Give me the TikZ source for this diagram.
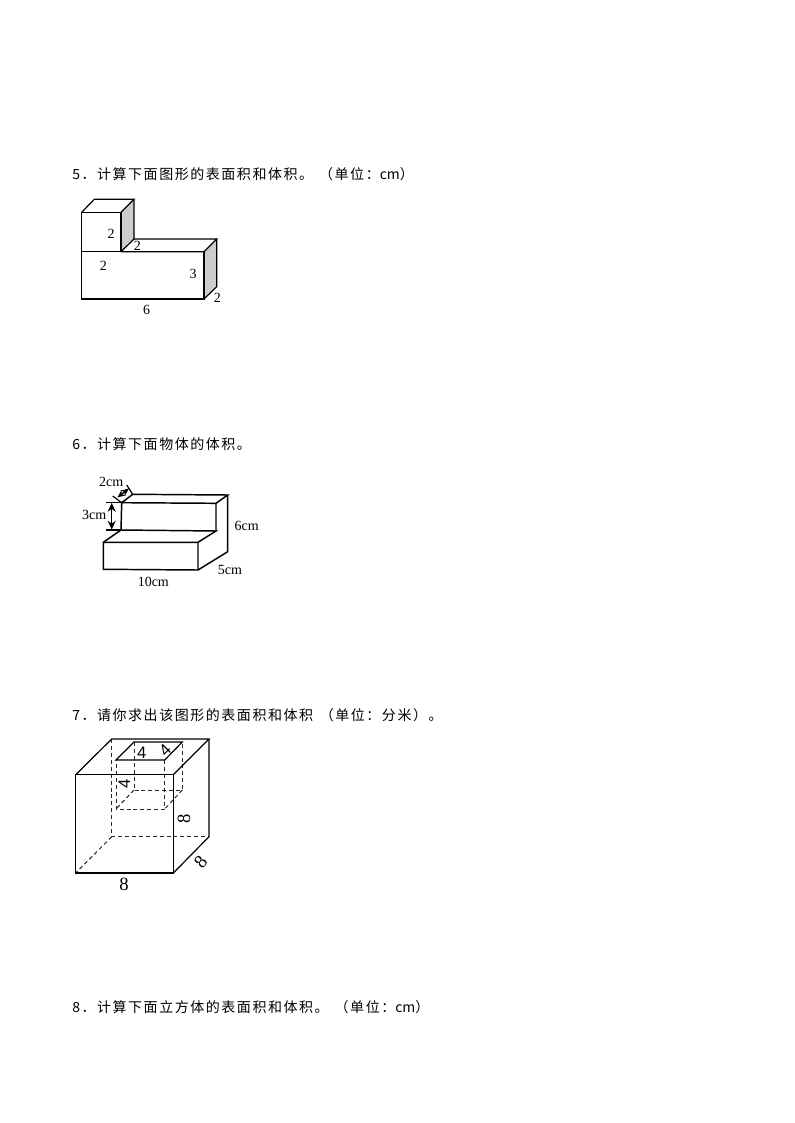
\documentclass[tikz,border=0pt]{standalone}
\usepackage{fontspec}
\usepackage{xcolor}
\setmainfont{Liberation Serif}
\newfontfamily\cjk[LetterSpace=11]{Noto Sans CJK SC}
\newfontfamily\cjkplain{Noto Sans CJK SC}
\newfontfamily\arialfont{Liberation Sans}
\usetikzlibrary{arrows.meta}
\definecolor{faceGray}{gray}{0.8}

\begin{document}
\begin{tikzpicture}[x=0.75pt, y=-0.75pt]
\tikzstyle{title}=[anchor=west, inner sep=0pt, font=\cjk\fontsize{10.5pt}{12pt}\selectfont]
\tikzstyle{dim}=[inner sep=0pt, font=\fontsize{10.5pt}{11pt}\selectfont]
\tikzstyle{dimb}=[inner sep=0pt, font=\arialfont\fontsize{12.5pt}{13pt}\selectfont]
\tikzstyle{dimc}=[inner sep=0pt, font=\fontsize{14pt}{15pt}\selectfont]
\tikzstyle{solid edge}=[line width=1.1pt, line join=miter]
\tikzstyle{thin edge}=[line width=0.9pt, line join=miter]
\tikzstyle{hidden}=[line width=0.75pt, black!85, dash pattern=on 3pt off 2.2pt]
\useasboundingbox (0,0) rectangle (794,1123);

\node[title] (t5) at (72,174) {5．计算下面图形的表面积和体积。\hspace{4.5pt}（单位：{\cjkplain cm}）};
\node[title] (t6) at (72,444) {6．计算下面物体的体积。};
\node[title] (t7) at (72,715) {7．请你求出该图形的表面积和体积\hspace{5pt}（单位：分米）。};
\node[title] (t8) at (72,1007) {8．计算下面立方体的表面积和体积。\hspace{4.5pt}（单位：{\cjkplain cm}）};

% figure 5
\coordinate (a1) at (81.7,212.3);
\coordinate (a2) at (121,212.3);
\coordinate (a3) at (121,251.7);
\coordinate (a4) at (81.7,251.7);
\coordinate (a5) at (94.3,199.3);
\coordinate (a6) at (134,199.3);
\coordinate (a7) at (134,239);
\coordinate (b1) at (204,251.7);
\coordinate (b2) at (204,299);
\coordinate (b3) at (81.7,299);
\coordinate (b4) at (216.7,239);
\coordinate (b5) at (216.7,286.7);

\fill[faceGray] (a2)--(a6)--(a7)--(a3)--cycle;
\fill[faceGray] (b1)--(b4)--(b5)--(b2)--cycle;
\draw[thin edge] (a1)--(a2)--(a3)--(a4)--cycle;
\draw[thin edge] (a1)--(a5)--(a6)--(a2);
\draw[thin edge] (a6)--(a7)--(a3);
\draw[thin edge] (a7)--(b4)--(b1)--(a3);
\draw[thin edge] (a4)--(b3)--(b2)--(b1);
\draw[thin edge] (b4)--(b5)--(b2);

\node[dim] (l5a) at (111,234) {2};
\node[dim] (l5b) at (137.3,246) {2};
\node[dim] (l5c) at (103.3,266) {2};
\node[dim] (l5d) at (193,274) {3};
\node[dim] (l5e) at (217.3,298) {2};
\node[dim] (l5f) at (146.7,310) {6};

% figure 6
\coordinate (c1) at (103.3,542.3);
\coordinate (c2) at (198,542.3);
\coordinate (c3) at (198,570);
\coordinate (c4) at (103.3,569.3);
\coordinate (c5) at (121,530);
\coordinate (c6) at (216,531);
\coordinate (c7) at (121.7,502.7);
\coordinate (c8) at (216,503.3);
\coordinate (c9) at (132.7,494.3);
\coordinate (c10) at (227.7,495);
\coordinate (c11) at (227.7,551.7);
\coordinate (d1) at (106,502.7);
\coordinate (d2) at (106,530);
\coordinate (d3) at (111.7,503);
\coordinate (d4) at (111.7,529.5);
\coordinate (d5) at (112.7,496);
\coordinate (d6) at (126.7,485);
\coordinate (d7) at (117.3,497.5);
\coordinate (d8) at (129,488.5);

\draw[solid edge] (c1)--(c2)--(c3)--(c4)--cycle;
\draw[solid edge] (c1)--(c5)--(c6)--(c2);
\draw[solid edge] (c5)--(c7)--(c8)--(c6);
\draw[solid edge] (c7)--(c9)--(c10)--(c8);
\draw[solid edge] (c10)--(c11)--(c3);
\draw[solid edge] (d1)--(c7);
\draw[solid edge] (d2)--(c5);
\draw[line width=1pt, {Stealth[length=6.5pt,width=6pt]}-{Stealth[length=6.5pt,width=6pt]}] (d3)--(d4);
\draw[thin edge] (d5)--(c7);
\draw[thin edge] (d6)--(c9);
\draw[line width=1pt, {Stealth[length=6pt,width=5pt]}-{Stealth[length=6pt,width=5pt]}] (d7)--(d8);

\node[dim] (l6a) at (111.3,481.7) {2cm};
\node[dim] (l6b) at (94.3,515.3) {3cm};
\node[dim] (l6c) at (246.7,525.7) {6cm};
\node[dim] (l6d) at (230,570) {5cm};
\node[dim] (l6e) at (153.3,581.7) {10cm};

% figure 7
\coordinate (e1) at (75.7,774.7);
\coordinate (e2) at (173.3,774.7);
\coordinate (e3) at (173.3,873);
\coordinate (e4) at (75.7,873);
\coordinate (e5) at (111.7,739);
\coordinate (e6) at (209,739);
\coordinate (e7) at (209,836.7);
\coordinate (e8) at (111.7,836.7);
\coordinate (f1) at (134,742);
\coordinate (f2) at (182.3,742);
\coordinate (f3) at (164.7,760);
\coordinate (f4) at (116,760);
\coordinate (f5) at (134,790);
\coordinate (f6) at (182.3,790);
\coordinate (f7) at (164.7,809);
\coordinate (f8) at (116,809);

\draw[hidden] (e5)--(e8)--(e7);
\draw[hidden] (e8)--(e4);
\draw[hidden] (f1)--(f5)--(f6)--(f2);
\draw[hidden] (f3)--(f7)--(f8)--(f4);
\draw[hidden] (f5)--(f8);
\draw[hidden] (f6)--(f7);
\draw[thin edge] (e1)--(e2)--(e3)--(e4)--cycle;
\draw[thin edge] (e1)--(e5)--(e6)--(e2);
\draw[thin edge] (e6)--(e7)--(e3);
\draw[thin edge] (f1)--(f2)--(f3)--(f4)--cycle;

\node[dimb] (l7a) at (141.7,752.5) {4};
\node[dimb, rotate=45] (l7b) at (165,749.7) {4};
\node[dimb, rotate=90] (l7c) at (124.5,784) {4};
\node[dimc, rotate=90] (l7d) at (184,819) {8};
\node[dimc, rotate=50] (l7e) at (200.7,861.7) {8};
\node[dimc] (l7f) at (124,884) {8};

\end{tikzpicture}
\end{document}
